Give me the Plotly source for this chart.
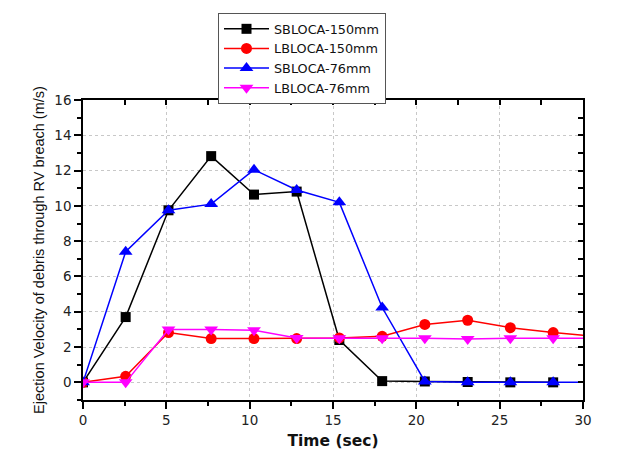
import plotly.graph_objects as go

time_s = [0, 2.56, 5.13, 7.69, 10.26, 12.82, 15.38, 17.95, 20.51, 23.08, 25.64, 28.21, 30.77]
sbloca_150 = [0, 3.7, 9.75, 12.82, 10.64, 10.81, 2.4, 0.07, 0.05, 0.02, 0.0, 0.0]
lbloca_150 = [0, 0.34, 2.82, 2.48, 2.48, 2.48, 2.52, 2.61, 3.28, 3.52, 3.1, 2.82, 2.6]
sbloca_76 = [0, 7.4, 9.75, 10.1, 12.05, 10.9, 10.2, 4.24, 0.05, 0.0, 0.0, 0.0, 0.0]
lbloca_76 = [0, 0.0, 3.0, 3.0, 2.95, 2.52, 2.5, 2.5, 2.5, 2.45, 2.5, 2.5, 2.5]

x_ticks = [0, 5, 10, 15, 20, 25, 30]
y_ticks = [0, 2, 4, 6, 8, 10, 12, 14, 16]

series = [
    ("SBLOCA-150mm", sbloca_150, "#000000", "square", 10),
    ("LBLOCA-150mm", lbloca_150, "#ff0000", "circle", 11),
    ("SBLOCA-76mm", sbloca_76, "#0000ff", "triangle-up", 12),
    ("LBLOCA-76mm", lbloca_76, "#ff00ff", "triangle-down", 12),
]

fig = go.Figure()
for name, vals, color, sym, size in series:
    fig.add_trace(go.Scatter(
        x=time_s[:len(vals)], y=vals, name=name, mode="lines+markers",
        line=dict(color=color, width=1.5),
        marker=dict(symbol=sym, size=size, color=color, line=dict(width=0)),
        cliponaxis=True,
    ))

wide = "DejaVu Sans"
font_tick = dict(family=wide, size=13.5, color="#222")
fig.update_layout(
    width=621, height=458,
    margin=dict(l=83, r=38, t=100, b=58),
    paper_bgcolor="white", plot_bgcolor="white",
    font=dict(family="Arial, Liberation Sans", size=14, color="#111"),
    legend=dict(
        x=0.27, y=1.29, xanchor="left", yanchor="top",
        bordercolor="#555", borderwidth=1, bgcolor="white",
        font=dict(family=wide, size=12.8, color="#111"), itemwidth=45,
        tracegroupgap=0,
    ),
    xaxis=dict(
        range=[0, 30], tickvals=x_ticks,
        ticks="outside", ticklen=7, tickwidth=1.5, tickcolor="black",
        minor=dict(dtick=2.5, tick0=0, ticks="outside", ticklen=4, tickcolor="black", showgrid=False),
        showline=True, linecolor="black", linewidth=1.5,
        showgrid=True, gridcolor="#c8c8c8", griddash="dot", gridwidth=1,
        zeroline=False, tickfont=font_tick,
        title=dict(text="<b>Time (sec)</b>", font=dict(family=wide, size=15.5, color="#111"), standoff=8),
    ),
    yaxis=dict(
        range=[-1, 16], tickvals=y_ticks,
        ticks="outside", ticklen=7, tickwidth=1.5, tickcolor="black",
        minor=dict(dtick=1, tick0=0, ticks="outside", ticklen=4, tickcolor="black", showgrid=False),
        showline=True, linecolor="black", linewidth=1.5,
        showgrid=True, gridcolor="#c8c8c8", griddash="dot", gridwidth=1,
        zeroline=False, tickfont=font_tick,
        title=dict(text="Ejection Velocity of debris through RV breach (m/s)",
                   font=dict(family="Arial, Liberation Sans", size=14.5, color="#111"), standoff=6),
    ),
    xaxis2=dict(
        overlaying="x", side="top", range=[0, 30], tickvals=x_ticks,
        ticks="inside", ticklen=5, tickwidth=1.5, tickcolor="black",
        minor=dict(dtick=2.5, tick0=0, ticks="inside", ticklen=5, tickcolor="black"),
        showticklabels=False, showline=True, linecolor="black", linewidth=1.5,
        showgrid=False, zeroline=False,
    ),
    yaxis2=dict(
        overlaying="y", side="right", range=[-1, 16], tickvals=y_ticks,
        ticks="inside", ticklen=5, tickwidth=1.5, tickcolor="black",
        minor=dict(dtick=1, tick0=0, ticks="inside", ticklen=5, tickcolor="black"),
        showticklabels=False, showline=True, linecolor="black", linewidth=1.5,
        showgrid=False, zeroline=False,
    ),
)
# invisible helper trace to activate the mirrored frame axes
fig.add_trace(go.Scatter(x=[None], y=[None], xaxis="x2", yaxis="y2",
                         showlegend=False, hoverinfo="skip"))

fig.write_html("out.html", config={"displayModeBar": False},
               post_script="document.body.style.margin='0';")
